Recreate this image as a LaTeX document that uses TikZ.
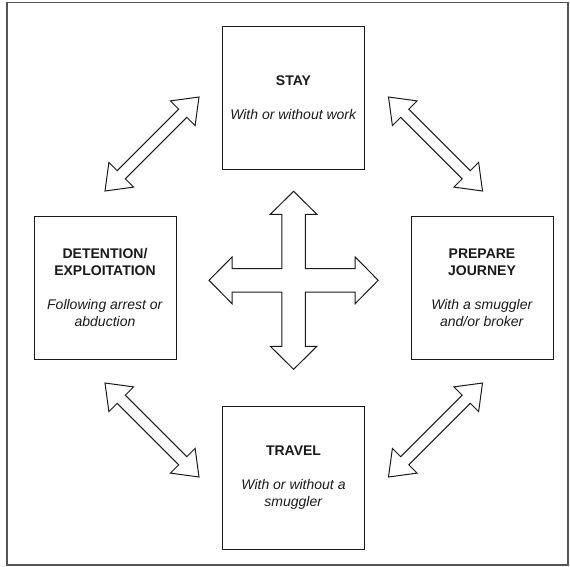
\documentclass[tikz,border=0pt]{standalone}
\usepackage{fontspec}
\setmainfont{Liberation Sans}
\usetikzlibrary{calc}
\definecolor{framegray}{HTML}{555555}
\definecolor{ink}{HTML}{1A1A1A}
\tikzset{
  box/.style={draw=ink, line width=1pt, minimum width=142pt, minimum height=143pt,
    inner sep=0pt, align=center, text=ink, font=\fontsize{14}{17}\selectfont},
  blockarrow/.style={draw=ink, line width=1pt, fill=white, line join=miter},
  frame/.style={draw=framegray, line width=1.6pt}
}
\newcommand\dblarrowpath[5]{%
  \draw[blockarrow] (#1)
    -- ($(#1)!#3!(#2)!#4!90:(#2)$)
    -- ($(#1)!#3!(#2)!#5!90:(#2)$)
    -- ($(#2)!#3!(#1)!#5!-90:(#1)$)
    -- ($(#2)!#3!(#1)!#4!-90:(#1)$)
    -- (#2)
    -- ($(#2)!#3!(#1)!#4!90:(#1)$)
    -- ($(#2)!#3!(#1)!#5!90:(#1)$)
    -- ($(#1)!#3!(#2)!#5!-90:(#2)$)
    -- ($(#1)!#3!(#2)!#4!-90:(#2)$)
    -- cycle;}
\begin{document}
\begin{tikzpicture}[x=1pt,y=-1pt]
\useasboundingbox (0,0) rectangle (570,566);
\draw[frame] (7,2.5) rectangle (568,565);

% boxes
\node[box] (stay) at (293.5,97.5) {\textbf{STAY}\\[17pt]\textit{With or without work}};
\node[box] (det) at (105,287.5) {\textbf{DETENTION/}\\\textbf{EXPLOITATION}\\[17pt]\textit{Following arrest or}\\\textit{abduction}};
\node[box] (prep) at (482,287.5) {\textbf{PREPARE}\\\textbf{JOURNEY}\\[17pt]\textit{With a smuggler}\\\textit{and/or broker}};
\node[box] (trav) at (293.5,478) {\textbf{TRAVEL}\\[17pt]\textit{With or without a}\\\textit{smuggler}};

% diagonal double arrows (tips)
\coordinate (tlA) at (105,191);   \coordinate (tlB) at (199,97);
\coordinate (trA) at (388.5,97);  \coordinate (trB) at (482.5,191);
\coordinate (blA) at (105,383);   \coordinate (blB) at (199,477);
\coordinate (brA) at (388.5,477); \coordinate (brB) at (482.5,383);
\dblarrowpath{tlA}{tlB}{23pt}{17.5pt}{5.7pt}
\dblarrowpath{trA}{trB}{23pt}{17.5pt}{5.7pt}
\dblarrowpath{blA}{blB}{23pt}{17.5pt}{5.7pt}
\dblarrowpath{brA}{brB}{23pt}{17.5pt}{5.7pt}

% central four-way arrow
\coordinate (c) at (293.6,280.3);
\draw[blockarrow]
  ($(c)+(0,-89)$) -- ($(c)+(23.3,-66)$) -- ($(c)+(11.7,-66)$) -- ($(c)+(11.7,-11.7)$)
  -- ($(c)+(61.6,-11.7)$) -- ($(c)+(61.6,-23.3)$) -- ($(c)+(84.6,0)$)
  -- ($(c)+(61.6,23.3)$) -- ($(c)+(61.6,11.7)$) -- ($(c)+(11.7,11.7)$)
  -- ($(c)+(11.7,66)$) -- ($(c)+(23.3,66)$) -- ($(c)+(0,89)$)
  -- ($(c)+(-23.3,66)$) -- ($(c)+(-11.7,66)$) -- ($(c)+(-11.7,11.7)$)
  -- ($(c)+(-61.6,11.7)$) -- ($(c)+(-61.6,23.3)$) -- ($(c)+(-84.6,0)$)
  -- ($(c)+(-61.6,-23.3)$) -- ($(c)+(-61.6,-11.7)$) -- ($(c)+(-11.7,-11.7)$)
  -- ($(c)+(-11.7,-66)$) -- ($(c)+(-23.3,-66)$) -- cycle;
\end{tikzpicture}
\end{document}
